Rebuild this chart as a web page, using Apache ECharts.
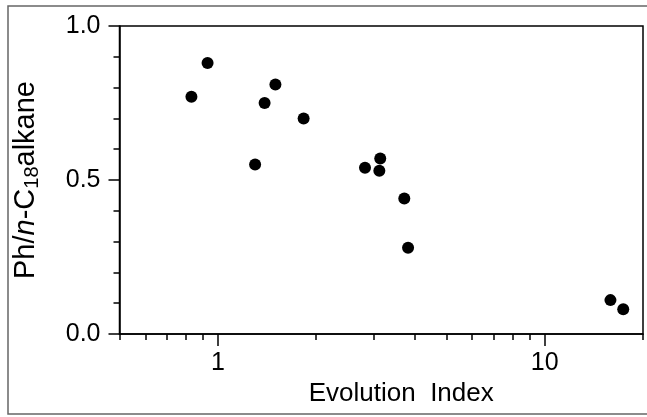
<!DOCTYPE html>
<html>
<head>
<meta charset="utf-8">
<script src="https://cdn.jsdelivr.net/npm/echarts@6/dist/echarts.min.js"></script>
<style>
  html, body { margin: 0; padding: 0; background: #fff; }
  #chart { width: 647px; height: 417px; }
</style>
</head>
<body>
<div id="chart"></div>
<script>
// Data
var evolutionIndex = [0.83, 0.93, 1.30, 1.39, 1.50, 1.83, 2.82, 3.14, 3.12, 3.72, 3.82, 15.9, 17.4];
var phC18 = [0.77, 0.88, 0.55, 0.75, 0.81, 0.70, 0.54, 0.57, 0.53, 0.44, 0.28, 0.11, 0.08];
var xMajorTicks = [1, 10];
var xMinorTicks = [0.5, 0.6, 0.7, 0.8, 0.9, 2, 3, 4, 5, 6, 7, 8, 9, 20];
var yTickLabels = [0.0, 0.5, 1.0];

var FONT = '"Liberation Sans", Arial, Helvetica, sans-serif';
var points = evolutionIndex.map(function (x, i) { return [x, phC18[i]]; });

var chart = echarts.init(document.getElementById('chart'), null, { renderer: 'canvas' });
chart.setOption({
  animation: false,
  backgroundColor: '#fff',
  graphic: [{
    type: 'rect',
    shape: { x: 8, y: 6, width: 660, height: 408 },
    style: { fill: 'none', stroke: '#666', lineWidth: 1.5 },
    silent: true, z: -1
  }],
  grid: {
    left: 119.5, right: 4, top: 26, bottom: 83,
    containLabel: false, outerBoundsMode: 'none',
    show: true, borderColor: '#000', borderWidth: 1.5, backgroundColor: 'transparent'
  },
  xAxis: [{
    type: 'log', logBase: 10, min: 0.5, max: 20, position: 'bottom',
    name: 'Evolution  Index', nameLocation: 'middle', nameGap: 45,
    nameTextStyle: { fontFamily: FONT, fontSize: 26, color: '#000', verticalAlign: 'top', padding: [0, 0, 0, 40] },
    axisLine: { show: true, lineStyle: { color: '#000', width: 1.5 } },
    axisTick: { show: true, inside: false, length: 12, customValues: xMajorTicks, lineStyle: { color: '#000', width: 1.5 } },
    axisLabel: { show: true, customValues: xMajorTicks, margin: 17, fontFamily: FONT, fontSize: 25, color: '#000' },
    splitLine: { show: false }, minorTick: { show: false }
  }, {
    type: 'log', logBase: 10, min: 0.5, max: 20, position: 'bottom', offset: 0,
    axisLine: { show: false },
    axisTick: { show: true, inside: false, length: 6, customValues: xMinorTicks, lineStyle: { color: '#000', width: 1.5 } },
    axisLabel: { show: false },
    splitLine: { show: false }
  }],
  yAxis: {
    type: 'value', min: 0, max: 1, interval: 0.5,
    name: '{a|Ph/}{i|n}{a|-C}{s|18}{a|alkane}',
    nameLocation: 'middle', nameGap: 77, nameRotate: 90,
    nameTextStyle: {
      fontFamily: FONT, fontSize: 29, color: '#000',
      rich: {
        a: { fontFamily: FONT, fontSize: 29, lineHeight: 31, color: '#000', verticalAlign: 'top' },
        i: { fontFamily: FONT, fontSize: 29, lineHeight: 31, color: '#000', fontStyle: 'italic', verticalAlign: 'top' },
        s: { fontFamily: FONT, fontSize: 20, lineHeight: 21, color: '#000', verticalAlign: 'bottom', padding: [14, 0, 0, 0] }
      }
    },
    axisLine: { show: true, lineStyle: { color: '#000', width: 1.5 } },
    axisTick: { show: true, inside: false, length: 11, lineStyle: { color: '#000', width: 1.5 } },
    minorTick: { show: true, splitNumber: 5, length: 6, lineStyle: { color: '#000', width: 1.5 } },
    axisLabel: {
      margin: 19, fontFamily: FONT, fontSize: 25, color: '#000',
      customValues: yTickLabels,
      formatter: function (v) { return v.toFixed(1); }
    },
    splitLine: { show: false }
  },
  series: [{
    type: 'scatter',
    xAxisIndex: 0, yAxisIndex: 0,
    data: points,
    symbol: 'circle', symbolSize: 12,
    itemStyle: { color: '#000', opacity: 1 }
  }]
});
</script>
</body>
</html>
